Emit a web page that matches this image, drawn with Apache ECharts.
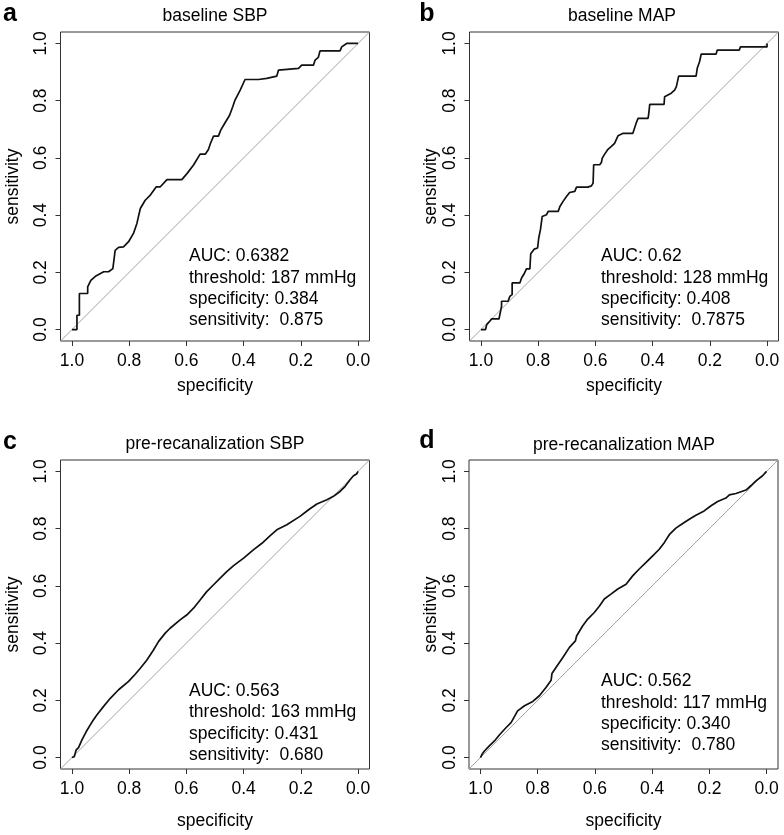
<!DOCTYPE html>
<html><head><meta charset="utf-8">
<script src="https://cdn.jsdelivr.net/npm/echarts@6/dist/echarts.min.js"></script>
<style>html,body{margin:0;padding:0;background:#fff}#c{width:784px;height:835px}</style>
</head><body><div id="c"></div>
<script>
// ---- data ----
const tickValues = [0, 0.2, 0.4, 0.6, 0.8, 1.0];
const panelLetters = ['a', 'b', 'c', 'd'];
const panelTitles = ['baseline SBP', 'baseline MAP', 'pre-recanalization SBP', 'pre-recanalization MAP'];
const annotA = ['AUC: 0.6382', 'threshold: 187 mmHg', 'specificity: 0.384', 'sensitivity:  0.875'];
const annotB = ['AUC: 0.62', 'threshold: 128 mmHg', 'specificity: 0.408', 'sensitivity:  0.7875'];
const annotC = ['AUC: 0.563', 'threshold: 163 mmHg', 'specificity: 0.431', 'sensitivity:  0.680'];
const annotD = ['AUC: 0.562', 'threshold: 117 mmHg', 'specificity: 0.340', 'sensitivity:  0.780'];

const specA = [1.0,0.9825,0.9825,0.974,0.974,0.945,0.945,0.934,0.918,0.889,0.872,0.857,0.849,0.837,0.820,0.802,0.785,0.773,0.761,0.744,0.726,0.705,0.691,0.668,0.616,0.598,0.575,0.552,0.534,0.523,0.515,0.505,0.488,0.480,0.470,0.449,0.438,0.430,0.412,0.395,0.348,0.319,0.284,0.278,0.272,0.208,0.197,0.156,0.150,0.139,0.133,0.063,0.057,0.040,0];
const sensA = [0,0,0.050,0.050,0.126,0.126,0.149,0.172,0.186,0.202,0.202,0.213,0.277,0.287,0.289,0.307,0.336,0.371,0.423,0.452,0.470,0.499,0.499,0.524,0.524,0.545,0.575,0.613,0.613,0.629,0.653,0.676,0.676,0.697,0.714,0.749,0.779,0.802,0.837,0.874,0.874,0.878,0.886,0.907,0.913,0.913,0.924,0.924,0.942,0.951,0.974,0.974,0.988,1.0,1.0];

const specB = [1.0,0.984,0.980,0.969,0.963,0.937,0.928,0.928,0.905,0.899,0.891,0.891,0.864,0.858,0.849,0.841,0.829,0.826,0.814,0.802,0.798,0.792,0.786,0.771,0.765,0.730,0.724,0.713,0.701,0.690,0.672,0.666,0.626,0.614,0.608,0.606,0.585,0.579,0.576,0.567,0.556,0.544,0.533,0.521,0.503,0.469,0.457,0.451,0.416,0.414,0.410,0.360,0.358,0.335,0.323,0.317,0.312,0.309,0.248,0.244,0.236,0.230,0.178,0.174,0.097,0.093,0,0];
const sensB = [0,0,0.017,0.029,0.037,0.037,0.081,0.099,0.099,0.116,0.122,0.163,0.163,0.180,0.195,0.212,0.212,0.265,0.281,0.285,0.320,0.349,0.395,0.401,0.413,0.413,0.430,0.448,0.465,0.479,0.483,0.498,0.498,0.502,0.512,0.576,0.576,0.584,0.599,0.614,0.630,0.640,0.651,0.677,0.686,0.686,0.723,0.738,0.738,0.750,0.787,0.787,0.814,0.826,0.837,0.849,0.872,0.886,0.886,0.913,0.936,0.963,0.963,0.977,0.977,0.988,0.988,1.0];

const specC = [1.0,0.992,0.985,0.977,0.965,0.950,0.930,0.913,0.890,0.866,0.837,0.802,0.779,0.761,0.738,0.715,0.697,0.674,0.657,0.622,0.598,0.575,0.552,0.529,0.505,0.482,0.459,0.435,0.400,0.366,0.336,0.307,0.284,0.249,0.203,0.173,0.144,0.109,0.086,0.063,0.045,0.028,0.016,0.005,0];
const sensC = [0,0.003,0.027,0.035,0.062,0.091,0.124,0.149,0.178,0.207,0.237,0.266,0.291,0.312,0.341,0.376,0.406,0.435,0.452,0.481,0.499,0.522,0.551,0.580,0.604,0.627,0.650,0.671,0.697,0.726,0.749,0.776,0.796,0.814,0.843,0.866,0.886,0.901,0.913,0.930,0.948,0.971,0.985,0.991,1.0];

const specD = [1.0,0.994,0.986,0.969,0.951,0.934,0.910,0.893,0.870,0.846,0.817,0.794,0.771,0.753,0.750,0.736,0.712,0.689,0.668,0.664,0.643,0.625,0.602,0.584,0.567,0.544,0.520,0.491,0.468,0.445,0.421,0.398,0.375,0.357,0.340,0.317,0.293,0.270,0.247,0.218,0.194,0.171,0.142,0.130,0.107,0.072,0.055,0.037,0.014,0];
const sensD = [0,0.012,0.023,0.041,0.058,0.079,0.105,0.122,0.163,0.181,0.196,0.216,0.245,0.270,0.294,0.315,0.350,0.385,0.408,0.425,0.460,0.484,0.507,0.530,0.554,0.571,0.589,0.606,0.635,0.659,0.682,0.705,0.728,0.752,0.779,0.802,0.818,0.833,0.847,0.862,0.880,0.895,0.907,0.918,0.923,0.935,0.950,0.967,0.985,1.0];

// ---- layout / styles ----
const FONT = 'Liberation Sans, Arial, Helvetica, sans-serif';
const FS = 17.5;
const grids = [
  {left: 60.5, top: 32, width: 309, height: 309},
  {left: 469.5, top: 32, width: 309, height: 309},
  {left: 60.5, top: 460, width: 309, height: 309},
  {left: 469, top: 460, width: 309, height: 309}
];
const xNameGap = [36, 36, 43, 43];
const yNameGap = [38, 29, 38, 29];
const curves = [[specA, sensA], [specB, sensB], [specC, sensC], [specD, sensD]];
const annots = [annotA, annotB, annotC, annotD];
const annotPos = [[189, 246], [601, 246], [189, 680.5], [601, 671]];
const titlePos = [[215, 16], [622, 16], [215, 444], [624, 445]];
const letterPos = [[10, 14], [427, 14], [10, 442], [427, 441]];

const chart = echarts.init(document.getElementById('c'), null, {renderer: 'canvas'});

const xAxes = [], yAxes = [], series = [], graphics = [];
grids.forEach((g, i) => {
  xAxes.push({
    type: 'value', gridIndex: i, inverse: true, min: -0.04, max: 1.04,
    name: 'specificity', nameLocation: 'middle', nameGap: xNameGap[i],
    nameTextStyle: {fontFamily: FONT, fontSize: FS, color: '#000'},
    splitLine: {show: false},
    axisLine: {show: false, onZero: false},
    axisTick: {show: true, customValues: tickValues, length: 5, lineStyle: {color: '#333', width: 1}},
    axisLabel: {customValues: tickValues, formatter: v => v.toFixed(1), fontFamily: FONT, fontSize: FS, color: '#000', margin: 11}
  });
  yAxes.push({
    type: 'value', gridIndex: i, min: -0.04, max: 1.04,
    name: 'sensitivity', nameLocation: 'middle', nameGap: yNameGap[i], nameRotate: 90,
    nameTextStyle: {fontFamily: FONT, fontSize: FS, color: '#000'},
    splitLine: {show: false},
    axisLine: {show: false, onZero: false},
    axisTick: {show: true, customValues: tickValues, length: 5, lineStyle: {color: '#333', width: 1}},
    axisLabel: {customValues: tickValues, formatter: v => v.toFixed(1), rotate: 90, fontFamily: FONT, fontSize: FS, color: '#000', margin: 10}
  });
  series.push({
    type: 'line', xAxisIndex: i, yAxisIndex: i, silent: true, symbol: 'none',
    data: [[1.04, -0.04], [-0.04, 1.04]],
    lineStyle: {color: '#a3a3a3', width: 1}, z: 2
  });
  const [sp, se] = curves[i];
  series.push({
    type: 'line', xAxisIndex: i, yAxisIndex: i, silent: true, symbol: 'none',
    data: sp.map((v, k) => [v, se[k]]),
    lineStyle: {color: '#111', width: 1.7}, z: 3
  });
  graphics.push({
    type: 'text', left: annotPos[i][0], top: annotPos[i][1],
    style: {text: annots[i].join('\n'), fontFamily: FONT, fontSize: FS, lineHeight: 21.3, fill: '#000'}
  });
  graphics.push({
    type: 'text', x: titlePos[i][0], y: titlePos[i][1],
    style: {text: panelTitles[i], fontFamily: FONT, fontSize: FS, fill: '#000', align: 'center', verticalAlign: 'middle'}
  });
  graphics.push({
    type: 'text', x: letterPos[i][0], y: letterPos[i][1],
    style: {text: panelLetters[i], fontFamily: FONT, fontSize: 25, fontWeight: 'bold', fill: '#000', align: 'center', verticalAlign: 'middle'}
  });
});

chart.setOption({
  animation: false,
  backgroundColor: '#fff',
  grid: grids.map(g => Object.assign({show: true, borderColor: '#333', borderWidth: 1, backgroundColor: 'transparent', containLabel: false, outerBoundsMode: 'none'}, g)),
  xAxis: xAxes,
  yAxis: yAxes,
  series: series,
  graphic: graphics
});
</script>
</body></html>
